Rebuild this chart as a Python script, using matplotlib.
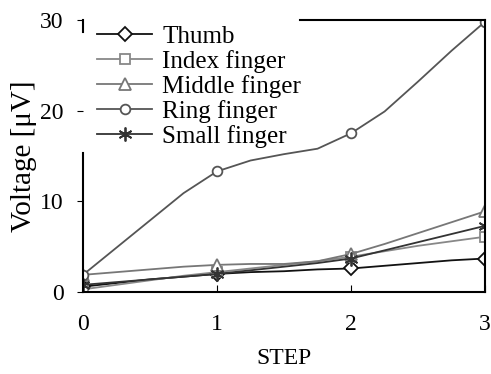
import numpy as np
import matplotlib.pyplot as plt

plt.rcParams['font.family'] = ['Liberation Serif', 'DejaVu Serif']

# readings at quarter steps, markers shown on whole steps only
step = [0, 0.25, 0.5, 0.75, 1, 1.25, 1.5, 1.75, 2, 2.25, 2.5, 2.75, 3]
thumb = [0.6, 1.0, 1.4, 1.7, 2.0, 2.2, 2.3, 2.5, 2.6, 2.9, 3.2, 3.5, 3.7]
index_f = [0.3, 0.8, 1.3, 1.8, 2.2, 2.6, 3.0, 3.4, 3.9, 4.5, 5.1, 5.6, 6.1]
middle = [1.9, 2.2, 2.5, 2.8, 3.0, 3.1, 3.1, 3.4, 4.2, 5.3, 6.5, 7.7, 8.9]
ring = [1.9, 4.9, 7.9, 10.9, 13.3, 14.5, 15.2, 15.8, 17.5, 19.9, 23.2, 26.6, 29.8]
small = [0.8, 1.1, 1.4, 1.7, 2.0, 2.4, 2.8, 3.2, 3.7, 4.6, 5.5, 6.4, 7.3]

labels = ['Thumb', 'Index finger', 'Middle finger', 'Ring finger', 'Small finger']
series = [thumb, index_f, middle, ring, small]
colors = ['#111111', '#888888', '#777777', '#555555', '#333333']
markers = ['D', 's', '^', 'o', (6, 2, 0)]
msizes = [7, 7, 8, 7, 10]

fig = plt.figure(figsize=(4.91, 3.74), dpi=100)
ax = fig.add_axes([0.169, 0.219, 0.819, 0.728])

for y, lab, c, m, ms in zip(series, labels, colors, markers, msizes):
    ax.plot(step, y, color=c, lw=1.3, marker=m, markevery=4, ms=ms,
            mfc='white' if m != (6, 2, 0) else c, mec=c, mew=1.3, label=lab)

ax.set_xlim(0, 3)
ax.set_ylim(0, 30)
ax.set_xticks([0, 1, 2, 3])
ax.set_yticks([0, 10, 20, 30])
ax.tick_params(axis='x', direction='in', length=5, pad=16, labelsize=17)
ax.tick_params(axis='y', direction='out', length=4, pad=10, labelsize=17)
ax.set_xlabel('STEP', fontsize=17, labelpad=9)
ax.set_ylabel('Voltage [μV]', fontsize=21, labelpad=2)

for s in ax.spines.values():
    s.set_linewidth(1.5)
ax.spines['top'].set_bounds(1.62, 3)
ax.spines['left'].set_bounds(0, 15.3)
ax.axvline(0, ymin=0.955, ymax=1, color='k', lw=1.5, clip_on=False)

ax.legend(loc='upper left', bbox_to_anchor=(0.035, 0.98), frameon=False,
          fontsize=18, handlelength=2.2, handletextpad=0.4, labelspacing=0.08,
          borderaxespad=0, borderpad=0)

fig.savefig('out.png', dpi=100)
